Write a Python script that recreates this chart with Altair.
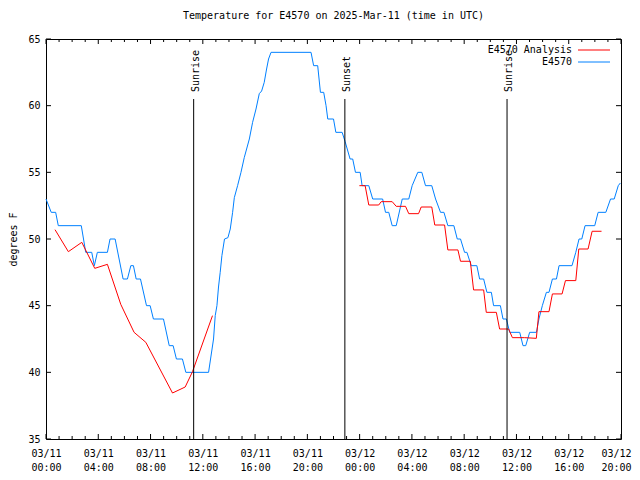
import altair as alt
import pandas as pd

# ---- data (hours since 2025-03-11 00:00 UTC, degrees F) ----
blue_hours = [0.00, 0.40, 0.74, 0.94, 2.70, 3.04, 3.50, 3.70, 3.93, 4.70, 4.90, 5.29, 5.90,
              6.23, 6.49, 6.69, 6.90, 7.23, 7.69, 7.97, 8.22, 8.99, 9.43, 9.73, 9.98, 10.44,
              10.70, 12.44, 12.82, 12.95, 13.08, 13.20, 13.33, 13.46, 13.66, 13.92, 14.10,
              14.28, 14.41, 14.66, 14.92, 15.17, 15.56, 15.81, 16.07, 16.32, 16.50, 16.70,
              16.88, 17.03, 17.22, 20.28, 20.48, 20.79, 21.00, 21.25, 21.43, 21.56, 22.00,
              22.18, 22.66, 22.89, 23.27, 23.47, 23.68, 24.04, 24.19, 24.70, 25.00, 25.76,
              25.98, 26.23, 26.49, 26.80, 27.26, 27.76, 28.02, 28.45, 28.76, 29.04, 29.52,
              29.81, 30.19, 30.45, 30.75, 31.21, 31.47, 31.72, 32.03, 32.21, 32.54, 32.97,
              33.18, 33.49, 33.74, 34.08, 34.25, 34.77, 34.97, 35.23, 35.48, 36.25, 36.50,
              36.71, 37.01, 37.53, 37.72, 37.98, 38.29, 38.49, 38.75, 39.06, 39.26, 40.25,
              40.54, 40.79, 41.00, 41.25, 41.99, 42.25, 42.84, 43.20, 43.48, 43.79, 43.95]
blue_values = [53, 52, 52, 51, 51, 49, 49, 48, 49, 49, 50, 50, 47,
               47, 48, 48, 47, 47, 45, 45, 44, 44, 42, 42, 41, 41,
               40, 40, 42.5, 44.25, 45, 46.4, 47.5, 48.75, 50, 50.1, 50.75,
               52, 53.1, 54, 55, 56.1, 57.5, 58.75, 59.75, 60.9, 61.1, 61.75,
               62.75, 63.5, 64, 64, 63, 63, 61, 61, 60, 59, 59,
               58, 58, 57.3, 56, 56, 55, 55, 54, 54, 53, 53,
               52, 52, 51, 51, 53, 53, 54, 55, 55, 54, 54,
               53, 52, 52, 51, 51, 50, 50, 49, 49, 48, 48,
               47, 47, 46, 46, 45, 45, 44, 44, 43, 43, 42,
               42, 43, 43, 44, 45, 46, 46, 47, 47, 48, 48,
               49, 50, 50, 51, 51, 52, 52, 53, 53, 54, 54.2]

red1_hours = [0.69, 1.71, 2.74, 3.73, 4.70, 5.72, 6.74, 7.64, 9.68, 10.65, 11.21, 12.74]
red1_values = [50.7, 49.05, 49.75, 47.8, 48.1, 45.1, 43.0, 42.25, 38.45, 38.9, 40.05, 44.25]

red2_hours = [23.98, 24.42, 24.70, 25.46, 25.65, 26.49, 26.80, 27.51, 27.76, 28.51, 28.71,
              29.52, 29.75, 30.50, 30.75, 31.52, 31.72, 32.47, 32.72, 33.49, 33.69, 34.46,
              34.71, 35.40, 35.69, 36.63, 37.52, 37.72, 38.49, 38.75, 39.49, 39.75, 40.54,
              40.77, 41.48, 41.79, 42.51]
red2_values = [54, 54, 52.55, 52.55, 52.8, 52.8, 52.45, 52.45, 51.9, 51.9, 52.4,
               52.4, 51.05, 51.05, 49.18, 49.18, 48.33, 48.33, 46.18, 46.18, 44.5, 44.5,
               43.25, 43.25, 42.6, 42.6, 42.55, 44.55, 44.55, 45.88, 45.88, 46.88, 46.88,
               49.25, 49.25, 50.58, 50.58]

event_hours = [11.30, 22.87, 35.28]
event_labels = ["Sunrise", "Sunset", "Sunrise"]

major_hours = list(range(0, 45, 4))
minor_hours = [h for h in range(45) if h % 4]
y_ticks = [35, 40, 45, 50, 55, 60, 65]

series_names = ["E4570 Analysis", "E4570"]
title_text = "Temperature for E4570 on 2025-Mar-11 (time in UTC)"

# ---- styles ----
FONT = "DejaVu Sans Mono"
FS = 10
RED = "#ff0000"
BLUE = "#0080ff"
W, H = 575, 400

blue_df = pd.DataFrame({"t": blue_hours, "v": blue_values})
red_df = pd.concat([
    pd.DataFrame({"t": red1_hours, "v": red1_values, "seg": 1}),
    pd.DataFrame({"t": red2_hours, "v": red2_values, "seg": 2}),
])
ev_df = pd.DataFrame({"t": event_hours, "label": event_labels})
major_df = pd.DataFrame({"t": major_hours})
minor_df = pd.DataFrame({"t": minor_hours})
yt_df = pd.DataFrame({"v": y_ticks})

xs = alt.Scale(domain=[0, 44], nice=False, zero=False)
ys = alt.Scale(domain=[35, 65], nice=False, zero=False)

x_axis = alt.Axis(
    values=major_hours,
    labelExpr="[datum.value < 24 ? '03/11' : '03/12', (datum.value % 24 < 10 ? '0' : '') + (datum.value % 24) + ':00']",
    ticks=False, domain=False, grid=False, title=None,
    labelFont=FONT, labelFontSize=FS, labelColor="black",
    labelPadding=9, labelBaseline="top", labelLineHeight=14,
    labelFlush=False, labelOverlap=False,
    labelOffset=alt.condition("datum.value == 44", alt.value(-5), alt.value(0)),
)
y_axis = alt.Axis(
    values=y_ticks, format="d",
    ticks=False, domain=False, grid=False,
    labelFont=FONT, labelFontSize=FS, labelColor="black", labelPadding=6,
    title="degrees F", titleFont=FONT, titleFontSize=FS, titleFontWeight="normal",
    titleColor="black", titleAngle=270, titleX=-33, titleY=H / 2,
    titleAlign="center", titleBaseline="middle",
)

X = alt.X("t:Q", scale=xs, axis=x_axis)
Xn = alt.X("t:Q", scale=xs)
Yn = alt.Y("v:Q", scale=ys)

blue = alt.Chart(blue_df).mark_line(color=BLUE, strokeWidth=1).encode(
    x=X, y=alt.Y("v:Q", scale=ys, axis=y_axis))
red = alt.Chart(red_df).mark_line(color=RED, strokeWidth=1).encode(
    x=Xn, y=Yn, detail="seg:N")

ev_rule = alt.Chart(ev_df).mark_rule(color="black", strokeWidth=1).encode(
    x=Xn, y=alt.value(60), y2=alt.value(H))
ev_text = alt.Chart(ev_df).mark_text(
    angle=270, align="left", baseline="middle", dy=2, font=FONT, fontSize=FS, color="black"
).encode(x=Xn, y=alt.value(53), text="label:N")

def xticks(df, length):
    bottom = alt.Chart(df).mark_rule(color="black").encode(
        x=Xn, y=alt.value(H), y2=alt.value(H - length))
    top = alt.Chart(df).mark_rule(color="black").encode(
        x=Xn, y=alt.value(0), y2=alt.value(length))
    return [bottom, top]

yl = alt.Chart(yt_df).mark_rule(color="black").encode(
    y=Yn, x=alt.value(0), x2=alt.value(5))
yr = alt.Chart(yt_df).mark_rule(color="black").encode(
    y=Yn, x=alt.value(W - 5), x2=alt.value(W))

leg_df1 = pd.DataFrame({"label": [series_names[0]]})
leg_df2 = pd.DataFrame({"label": [series_names[1]]})
leg_t1 = alt.Chart(leg_df1).mark_text(align="right", baseline="middle", font=FONT,
                                      fontSize=FS, color="black").encode(
    text="label:N", x=alt.value(526), y=alt.value(11))
leg_t2 = alt.Chart(leg_df2).mark_text(align="right", baseline="middle", font=FONT,
                                      fontSize=FS, color="black").encode(
    text="label:N", x=alt.value(526), y=alt.value(23))
leg_l1 = alt.Chart(leg_df1).mark_rule(color=RED, strokeWidth=1).encode(
    x=alt.value(532), x2=alt.value(564), y=alt.value(11))
leg_l2 = alt.Chart(leg_df2).mark_rule(color=BLUE, strokeWidth=1).encode(
    x=alt.value(532), x2=alt.value(564), y=alt.value(23))

layers = [blue, red, ev_rule, ev_text] + xticks(major_df, 5) + xticks(minor_df, 3) + \
    [yl, yr, leg_t1, leg_t2, leg_l1, leg_l2]

chart = alt.layer(*layers).properties(
    width=W, height=H,
    title=alt.TitleParams(title_text, font=FONT, fontSize=FS, fontWeight="normal",
                          anchor="middle", color="black", offset=13),
    autosize=alt.AutoSizeParams(type="none"),
    padding={"left": 38, "top": 31, "right": 11, "bottom": 33},
    background="white",
).configure_view(stroke="black", strokeWidth=1)

chart.save("out.html", embed_options={"renderer": "svg", "actions": False})
